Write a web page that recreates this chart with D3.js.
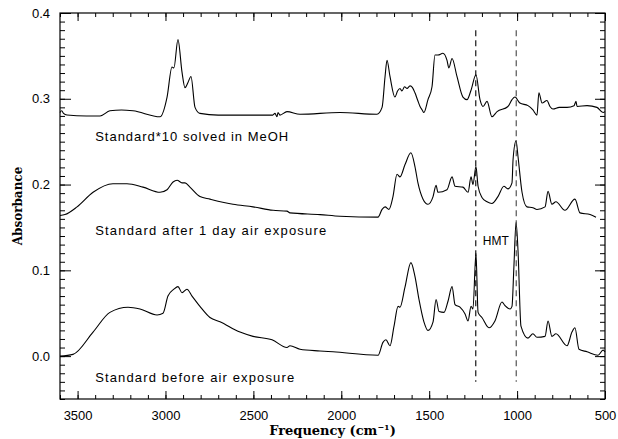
<!DOCTYPE html>
<html>
<head>
<meta charset="utf-8">
<script src="https://cdn.jsdelivr.net/npm/d3@7"></script>
<style>
  body { margin: 0; background: #fff; }
  svg { display: block; }
  text { fill: #000; }
</style>
</head>
<body>
<svg id="chart" width="618" height="439"></svg>
<script>
'use strict'

// spectra: [frequency cm-1, absorbance]
const meohSpectrum = [[3600,0.284],[3590,0.286],[3580,0.283],[3560,0.281],[3450,0.280],[3372,0.280],[3316,0.286],[3250,0.287],[3185,0.286],[3031,0.279],[2991,0.302],[2963,0.337],[2952,0.336],[2929,0.369],[2906,0.331],[2889,0.313],[2872,0.319],[2855,0.326],[2832,0.290],[2804,0.283],[2700,0.281],[2390,0.281],[2377,0.283],[2366,0.279],[2360,0.284],[2349,0.281],[2309,0.285],[2235,0.282],[2007,0.284],[1797,0.282],[1768,0.290],[1751,0.326],[1740,0.345],[1723,0.326],[1695,0.302],[1680,0.309],[1666,0.312],[1655,0.309],[1640,0.314],[1626,0.312],[1609,0.315],[1595,0.313],[1581,0.307],[1565,0.298],[1552,0.291],[1540,0.287],[1530,0.284],[1507,0.299],[1484,0.314],[1467,0.351],[1450,0.351],[1422,0.353],[1399,0.345],[1388,0.336],[1370,0.347],[1342,0.326],[1308,0.302],[1285,0.299],[1262,0.310],[1234,0.328],[1211,0.299],[1194,0.291],[1171,0.297],[1143,0.279],[1114,0.285],[1052,0.291],[1029,0.299],[1012,0.302],[984,0.295],[938,0.292],[910,0.287],[887,0.281],[876,0.307],[858,0.295],[830,0.298],[813,0.291],[796,0.288],[760,0.290],[716,0.290],[676,0.292],[665,0.297],[659,0.291],[602,0.292],[546,0.290],[511,0.284],[500,0.285]]

const airDaySpectrum = [[3600,0.164],[3572,0.165],[3503,0.174],[3412,0.191],[3299,0.201],[3219,0.201],[3128,0.197],[3031,0.191],[2991,0.194],[2957,0.203],[2934,0.205],[2906,0.202],[2889,0.202],[2861,0.197],[2804,0.186],[2747,0.183],[2616,0.177],[2502,0.174],[2388,0.170],[2309,0.169],[2292,0.167],[2121,0.165],[2007,0.163],[1791,0.162],[1768,0.171],[1751,0.174],[1729,0.171],[1706,0.186],[1683,0.212],[1666,0.209],[1638,0.223],[1604,0.237],[1581,0.221],[1564,0.202],[1535,0.183],[1507,0.177],[1478,0.186],[1461,0.199],[1450,0.191],[1399,0.194],[1370,0.209],[1353,0.198],[1308,0.197],[1279,0.191],[1262,0.209],[1251,0.200],[1234,0.221],[1222,0.198],[1200,0.185],[1171,0.180],[1143,0.178],[1109,0.186],[1075,0.198],[1052,0.195],[1029,0.202],[1023,0.229],[1006,0.251],[995,0.233],[972,0.191],[944,0.174],[910,0.173],[887,0.171],[841,0.174],[824,0.192],[802,0.177],[779,0.180],[728,0.170],[671,0.183],[642,0.167],[585,0.165],[551,0.162]]

const freshSpectrum = [[3600,0.000],[3526,0.002],[3412,0.028],[3316,0.051],[3213,0.057],[3145,0.055],[3048,0.048],[3014,0.050],[2986,0.070],[2952,0.078],[2929,0.081],[2906,0.074],[2878,0.078],[2849,0.070],[2804,0.058],[2747,0.045],[2690,0.040],[2576,0.028],[2502,0.023],[2394,0.019],[2309,0.010],[2292,0.012],[2235,0.008],[2121,0.006],[2047,0.005],[1791,0.001],[1763,0.016],[1746,0.019],[1723,0.012],[1700,0.035],[1677,0.058],[1666,0.057],[1638,0.080],[1604,0.109],[1581,0.093],[1558,0.066],[1530,0.040],[1507,0.030],[1478,0.040],[1461,0.066],[1444,0.052],[1416,0.051],[1393,0.064],[1370,0.081],[1353,0.060],[1325,0.057],[1296,0.049],[1279,0.041],[1262,0.058],[1251,0.055],[1234,0.120],[1222,0.051],[1200,0.045],[1160,0.033],[1126,0.041],[1086,0.063],[1069,0.059],[1040,0.055],[1029,0.058],[1018,0.105],[1006,0.156],[995,0.124],[978,0.035],[938,0.021],[910,0.026],[887,0.022],[841,0.023],[824,0.041],[802,0.023],[779,0.026],[716,0.012],[688,0.028],[671,0.033],[648,0.008],[602,0.005],[540,0.001],[511,0.007],[500,0.005]]

const spectrumLabels = [
	{text: 'Standard*10 solved in MeOH', x: 3400, y: 0.251, len: 193},
	{text: 'Standard after 1 day air exposure', x: 3400, y: 0.141, len: 231},
	{text: 'Standard before air exposure', x: 3400, y: -0.030, len: 199}
]
const markerLines = [1235, 1005]
const xTicks = [3500, 3000, 2500, 2000, 1500, 1000, 500]
const yTicks = [0.0, 0.1, 0.2, 0.3, 0.4]

const svg = d3.select('#chart')
const margin = {left: 60, right: 13, top: 13, bottom: 40}
const width = 618 - margin.left - margin.right
const height = 439 - margin.top - margin.bottom

const x = d3.scaleLinear().domain([3600, 500]).range([0, width])
const y = d3.scaleLinear().domain([-0.05, 0.4]).range([height, 0])

const g = svg.append('g').attr('transform', `translate(${margin.left},${margin.top})`)

const minorX = d3.range(3600, 499, -100)
const minorY = d3.range(-50, 401, 10).map((v) => v / 1000)

const styleAxis = (sel) => {
	sel.select('.domain').remove()
	sel.selectAll('line').attr('stroke', '#000')
}

// minor ticks, all four sides
g.append('g').attr('transform', `translate(0,${height})`)
	.call(d3.axisBottom(x).tickValues(minorX).tickSize(-4).tickFormat(''))
	.call(styleAxis)
g.append('g')
	.call(d3.axisTop(x).tickValues(minorX).tickSize(-4).tickFormat(''))
	.call(styleAxis)
g.append('g')
	.call(d3.axisLeft(y).tickValues(minorY).tickSize(-5).tickFormat(''))
	.call(styleAxis)
g.append('g').attr('transform', `translate(${width},0)`)
	.call(d3.axisRight(y).tickValues(minorY).tickSize(-5).tickFormat(''))
	.call(styleAxis)

// major ticks and labels
g.append('g').attr('transform', `translate(0,${height})`)
	.call(d3.axisBottom(x).tickValues(xTicks).tickSizeInner(-8).tickSizeOuter(0).tickPadding(12).tickFormat(d3.format('d')))
	.call(styleAxis)
	.selectAll('text')
	.attr('font-family', 'Liberation Sans, Arial, sans-serif')
	.attr('font-size', 13)
g.append('g')
	.call(d3.axisTop(x).tickValues(xTicks).tickSize(-8).tickFormat(''))
	.call(styleAxis)
g.append('g')
	.call(d3.axisLeft(y).tickValues(yTicks).tickSizeInner(-11).tickSizeOuter(0).tickPadding(10).tickFormat(d3.format('.1f')))
	.call(styleAxis)
	.selectAll('text')
	.attr('font-family', 'Liberation Sans, Arial, sans-serif')
	.attr('font-size', 13)
g.append('g').attr('transform', `translate(${width},0)`)
	.call(d3.axisRight(y).tickValues(yTicks).tickSize(-10).tickFormat(''))
	.call(styleAxis)

g.append('rect')
	.attr('width', width)
	.attr('height', height)
	.attr('fill', 'none')
	.attr('stroke', '#000')
	.attr('stroke-width', 1.2)

const line = d3.line()
	.x((d) => x(d[0]))
	.y((d) => y(d[1]))
	.curve(d3.curveMonotoneX)

const spectra = [meohSpectrum, airDaySpectrum, freshSpectrum]
g.selectAll('.spectrum')
	.data(spectra)
	.enter()
	.append('path')
	.attr('class', 'spectrum')
	.attr('d', (d) => line(d))
	.attr('fill', 'none')
	.attr('stroke', '#000')
	.attr('stroke-width', 1.1)

g.selectAll('.marker')
	.data(markerLines)
	.enter()
	.append('line')
	.attr('class', 'marker')
	.attr('x1', (d) => x(d))
	.attr('x2', (d) => x(d))
	.attr('y1', y(0.38))
	.attr('y2', y(-0.03))
	.attr('stroke', (d, i) => i === 0 ? '#000' : '#444')
	.attr('stroke-width', 1.1)
	.attr('stroke-dasharray', '6,4')

g.selectAll('.label')
	.data(spectrumLabels)
	.enter()
	.append('text')
	.attr('class', 'label')
	.attr('x', (d) => x(d.x))
	.attr('y', (d) => y(d.y))
	.attr('textLength', (d) => d.len)
	.attr('lengthAdjust', 'spacing')
	.attr('font-family', 'Liberation Sans, Arial, sans-serif')
	.attr('font-size', 13)
	.text((d) => d.text)

g.append('text')
	.attr('x', x(1195))
	.attr('y', y(0.130))
	.attr('font-family', 'Liberation Sans, Arial, sans-serif')
	.attr('font-size', 12)
	.text('HMT')

// axis titles
const xTitle = svg.append('text')
	.attr('x', margin.left + width / 2 + 0)
	.attr('y', 435)
	.attr('text-anchor', 'middle')
	.attr('font-family', 'DejaVu Serif, serif')
	.attr('font-weight', 'bold')
	.attr('font-size', 13)
xTitle.append('tspan').text('Frequency (cm')
xTitle.append('tspan').attr('dy', -5).attr('font-size', 8).text('\u22121')
xTitle.append('tspan').attr('dy', 5).text(')')

svg.append('text')
	.attr('transform', `translate(22,${margin.top + height / 2}) rotate(-90)`)
	.attr('text-anchor', 'middle')
	.attr('font-family', 'DejaVu Serif, serif')
	.attr('font-weight', 'bold')
	.attr('font-size', 12)
	.text('Absorbance')
</script>
</body>
</html>
